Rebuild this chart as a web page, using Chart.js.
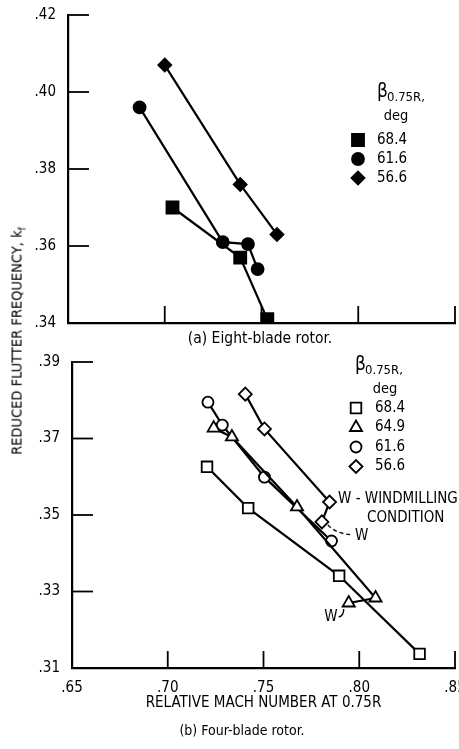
<!DOCTYPE html>
<html>
<head>
<meta charset="utf-8">
<script src="https://cdn.jsdelivr.net/npm/chart.js@4.4.0/dist/chart.umd.min.js"></script>
<style>
  body { margin: 0; background: #fff; width: 459px; height: 749px; overflow: hidden; position: relative;
         font-family: "DejaVu Sans Condensed", "Liberation Sans Narrow", "DejaVu Sans", sans-serif; color: #000; }
  canvas { position: absolute; left: 0; }
  #eight { top: 0; }
  #four { top: 340px; }
  .txt { position: absolute; white-space: nowrap; font-size: 14px; }
  #ytitle { left: 18px; top: 341px; transform: translate(-50%, -50%) rotate(-90deg); font-size: 14.5px; }
  #capA { left: 260px; top: 338px; transform: translate(-50%, -50%); font-size: 15.5px; }
  #capB { left: 242px; top: 730px; transform: translate(-50%, -50%); }
</style>
</head>
<body>
<canvas id="eight" width="480" height="345"></canvas>
<canvas id="four" width="480" height="409"></canvas>
<div class="txt" id="ytitle">REDUCED FLUTTER FREQUENCY, k<sub style="font-size:10px">f</sub></div>
<div class="txt" id="capA">(a) Eight-blade rotor.</div>
<div class="txt" id="capB">(b) Four-blade rotor.</div>
<script>
// (a) eight-blade rotor
var sq8x = [0.704, 0.739, 0.753];
var sq8y = [0.370, 0.357, 0.341];
var ci8x = [0.687, 0.730, 0.743, 0.748];
var ci8y = [0.396, 0.361, 0.3605, 0.354];
var di8x = [0.700, 0.739, 0.758];
var di8y = [0.407, 0.376, 0.363];
var labels8 = ['68.4', '61.6', '56.6'];

// (b) four-blade rotor (last point of triangle and diamond series = windmilling)
var sq4x = [0.7205, 0.742, 0.7895, 0.8315];
var sq4y = [0.3626, 0.3518, 0.3341, 0.3137];
var tr4x = [0.724, 0.7335, 0.7675, 0.8085, 0.7945];
var tr4y = [0.3727, 0.3704, 0.3521, 0.3283, 0.3270];
var ci4x = [0.721, 0.7285, 0.7505, 0.7855];
var ci4y = [0.3795, 0.3735, 0.3599, 0.3432];
var di4x = [0.7405, 0.7505, 0.7845, 0.7805];
var di4y = [0.3816, 0.3725, 0.3534, 0.3482];
var labels4 = ['68.4', '64.9', '61.6', '56.6'];

var xTicks = [0.65, 0.70, 0.75, 0.80, 0.85];
var yTicks8 = [0.34, 0.36, 0.38, 0.40, 0.42];
var yTicks4 = [0.31, 0.33, 0.35, 0.37, 0.39];

var FONT = '"DejaVu Sans Condensed", "Liberation Sans Narrow", "DejaVu Sans", sans-serif';

function pts(xs, ys) {
  return xs.map(function (x, i) { return {x: x, y: ys[i]}; });
}

function serie(label, xs, ys, style, radius, filled) {
  return {
    label: label,
    data: pts(xs, ys),
    showLine: true,
    borderColor: '#000',
    borderWidth: 2.2,
    pointStyle: style,
    pointRadius: radius,
    pointHoverRadius: radius,
    pointBorderWidth: 1.8,
    pointBackgroundColor: filled ? '#000' : '#fff',
    pointBorderColor: '#000'
  };
}

function fmt(v) { return v.toFixed(2).replace(/^0/, ''); }

// short tick marks pointing into the plot
var innerTicks = {
  id: 'innerTicks',
  afterDraw: function (chart) {
    var ctx = chart.ctx, a = chart.chartArea;
    ctx.save();
    ctx.strokeStyle = '#000';
    ctx.lineWidth = 1.8;
    chart.scales.x.ticks.forEach(function (t) {
      var px = chart.scales.x.getPixelForValue(t.value);
      ctx.beginPath(); ctx.moveTo(px, a.bottom); ctx.lineTo(px, a.bottom - 17); ctx.stroke();
    });
    chart.scales.y.ticks.forEach(function (t) {
      var py = chart.scales.y.getPixelForValue(t.value);
      ctx.beginPath(); ctx.moveTo(a.left, py); ctx.lineTo(a.left + 21, py); ctx.stroke();
    });
    ctx.restore();
  }
};

// legend box with the beta heading
var betaLegend = {
  id: 'betaLegend',
  afterDraw: function (chart, args, o) {
    var ctx = chart.ctx;
    var bx = o.x + o.betaDx;
    ctx.save();
    ctx.fillStyle = '#000';
    ctx.textBaseline = 'middle';
    ctx.textAlign = 'left';
    ctx.font = '19px ' + FONT;
    ctx.fillText('\u03b2', bx, o.y - 1);
    ctx.font = '13px ' + FONT;
    ctx.fillText('0.75R,', bx + 10, o.y + 5);
    ctx.font = '14.5px ' + FONT;
    ctx.textAlign = 'center';
    ctx.fillText('deg', o.x + o.degDx, o.y + 23);
    ctx.textAlign = 'left';
    chart.data.datasets.forEach(function (ds, i) {
      var yy = o.y + o.first + i * o.step;
      ctx.lineWidth = ds.pointBorderWidth;
      ctx.strokeStyle = '#000';
      ctx.fillStyle = ds.pointBackgroundColor;
      Chart.helpers.drawPoint(ctx, {pointStyle: ds.pointStyle, radius: ds.pointRadius, rotation: 0, borderWidth: ds.pointBorderWidth}, o.x - 19, yy);
      ctx.fillStyle = '#000';
      ctx.font = '15px ' + FONT;
      ctx.fillText(ds.label, o.x, yy);
    });
    ctx.restore();
  }
};

// windmilling notes for panel (b)
var windNotes = {
  id: 'windNotes',
  afterDraw: function (chart) {
    var ctx = chart.ctx, xs = chart.scales.x, ys = chart.scales.y;
    var dx = xs.getPixelForValue(di4x[di4x.length - 1]), dy = ys.getPixelForValue(di4y[di4y.length - 1]);
    var tx = xs.getPixelForValue(tr4x[tr4x.length - 1]), ty = ys.getPixelForValue(tr4y[tr4y.length - 1]);
    ctx.save();
    ctx.strokeStyle = '#000';
    ctx.fillStyle = '#000';
    ctx.lineWidth = 1.4;
    ctx.setLineDash([4, 3]);
    ctx.beginPath();
    ctx.moveTo(dx + 6, dy + 3);
    ctx.quadraticCurveTo(dx + 14, dy + 12, dx + 31, dy + 13);
    ctx.stroke();
    ctx.setLineDash([]);
    ctx.beginPath();
    ctx.moveTo(tx - 10, ty + 14);
    ctx.quadraticCurveTo(tx - 5, ty + 13, tx - 5, ty + 6);
    ctx.stroke();
    ctx.font = '15px ' + FONT;
    ctx.textBaseline = 'middle';
    ctx.textAlign = 'left';
    ctx.fillText('W', dx + 33, dy + 14);
    ctx.textAlign = 'right';
    ctx.fillText('W', tx - 11, ty + 14);
    ctx.textAlign = 'left';
    ctx.fillText('W - WINDMILLING', 338, 159);
    ctx.fillText('CONDITION', 367, 178);
    ctx.restore();
  }
};

function axes(yMin, yMax, showX, xHeight) {
  return {
    x: {
      type: 'linear', min: 0.65, max: 0.85,
      afterBuildTicks: function (s) { s.ticks = xTicks.map(function (v) { return {value: v}; }); },
      grid: {display: false},
      border: {display: true, color: '#000', width: 2.2},
      ticks: {display: showX, padding: 3, color: '#000', font: {family: FONT, size: 15}, callback: fmt, maxRotation: 0},
      title: {display: showX, text: 'RELATIVE MACH NUMBER AT 0.75R', color: '#000',
              font: {family: FONT, size: 15}, padding: {top: 0, bottom: 37}},
      afterFit: function (s) { s.height = xHeight; }
    },
    y: {
      type: 'linear', min: yMin, max: yMax,
      grid: {display: false},
      border: {display: true, color: '#000', width: 2.2},
      ticks: {padding: 4, color: '#000', font: {family: FONT, size: 15}, callback: fmt},
      afterFit: function (s) { s.width = 68; }
    }
  };
}

function baseOptions(yMin, yMax, yTicks, showX, xHeight, pad, legendPos) {
  var sc = axes(yMin, yMax, showX, xHeight);
  sc.y.afterBuildTicks = function (s) { s.ticks = yTicks.map(function (v) { return {value: v}; }); };
  return {
    responsive: false,
    animation: false,
    layout: {padding: pad},
    scales: sc,
    plugins: {legend: {display: false}, tooltip: {enabled: false}, betaLegend: legendPos}
  };
}

new Chart(document.getElementById('eight'), {
  type: 'scatter',
  data: {datasets: [
    serie(labels8[0], sq8x, sq8y, 'rect', 8.5, true),
    serie(labels8[1], ci8x, ci8y, 'circle', 6, true),
    serie(labels8[2], di8x, di8y, 'rectRot', 6.5, true)
  ]},
  options: baseOptions(0.34, 0.42, yTicks8, false, 22, {left: 0, right: 25, top: 15, bottom: 0},
    {x: 377, y: 93, first: 47, step: 19, betaDx: 0, degDx: 19}),
  plugins: [innerTicks, betaLegend]
});

new Chart(document.getElementById('four'), {
  type: 'scatter',
  data: {datasets: [
    serie(labels4[0], sq4x, sq4y, 'rect', 7.5, false),
    serie(labels4[1], tr4x, tr4y, 'triangle', 7, false),
    serie(labels4[2], ci4x, ci4y, 'circle', 5.5, false),
    serie(labels4[3], di4x, di4y, 'rectRot', 6.5, false)
  ]},
  options: baseOptions(0.31, 0.39, yTicks4, true, 81, {left: 4, right: 25, top: 22, bottom: 0},
    {x: 375, y: 26, first: 42, step: 19.5, betaDx: -20, degDx: 10}),
  plugins: [innerTicks, betaLegend, windNotes]
});
</script>
</body>
</html>
